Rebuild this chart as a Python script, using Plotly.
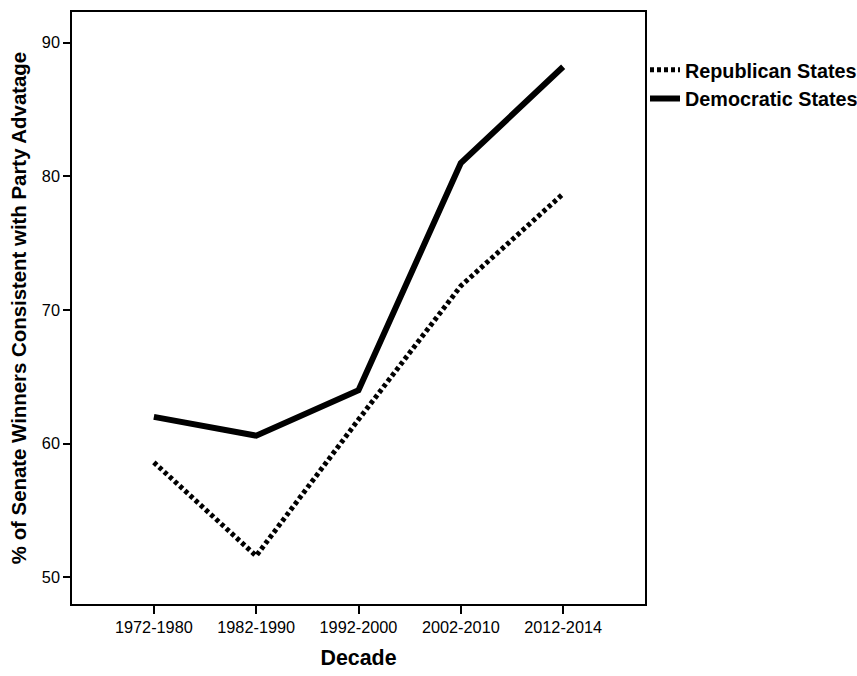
import plotly.graph_objects as go

decades = ["1972-1980", "1982-1990", "1992-2000", "2002-2010", "2012-2014"]
republican = [58.6, 51.6, 61.8, 71.8, 78.7]
democratic = [62.0, 60.6, 64.0, 81.0, 88.2]
y_ticks = [50, 60, 70, 80, 90]

fig = go.Figure()
fig.add_trace(go.Scatter(
    x=decades, y=republican, mode="lines", name="Republican States",
    line=dict(color="black", width=5, dash="4px,3px"),
))
fig.add_trace(go.Scatter(
    x=decades, y=democratic, mode="lines", name="Democratic States",
    line=dict(color="black", width=6),
))

font_family = "Liberation Sans, Arial, sans-serif"
fig.update_layout(
    width=873, height=676,
    margin=dict(l=72, r=224, t=10, b=59),
    paper_bgcolor="white", plot_bgcolor="white",
    font=dict(family=font_family, color="black"),
    showlegend=True,
    legend=dict(
        x=1.0, xanchor="left", y=0.935, yanchor="top",
        font=dict(size=19.8, family=font_family, weight="bold"),
        bgcolor="rgba(0,0,0,0)", borderwidth=0,
        tracegroupgap=0,
    ),
    xaxis=dict(
        type="category", range=[-0.8, 4.8],
        showline=True, linecolor="black", linewidth=1.5, mirror=True,
        ticks="outside", ticklen=8, tickcolor="black", tickwidth=1.5,
        showgrid=False, zeroline=False,
        tickfont=dict(size=16.3),
        title=dict(text="<b>Decade</b>", font=dict(size=21.4), standoff=15),
    ),
    yaxis=dict(
        range=[48.0, 92.3], tickvals=y_ticks,
        showline=True, linecolor="black", linewidth=1.5, mirror=True,
        ticks="outside", ticklen=7, tickcolor="black", tickwidth=1.5,
        showgrid=False, zeroline=False,
        tickfont=dict(size=16.3),
        title=dict(text="<b>% of Senate Winners Consistent with Party Advatage</b>",
                   font=dict(size=20.4), standoff=10),
    ),
)

fig.write_html(
    "out.html",
    config={"displayModeBar": False},
    post_script=(
        "document.body.style.margin='0';"
        "document.body.style.overflow='hidden';"
        "document.documentElement.style.overflow='hidden';"
    ),
)
